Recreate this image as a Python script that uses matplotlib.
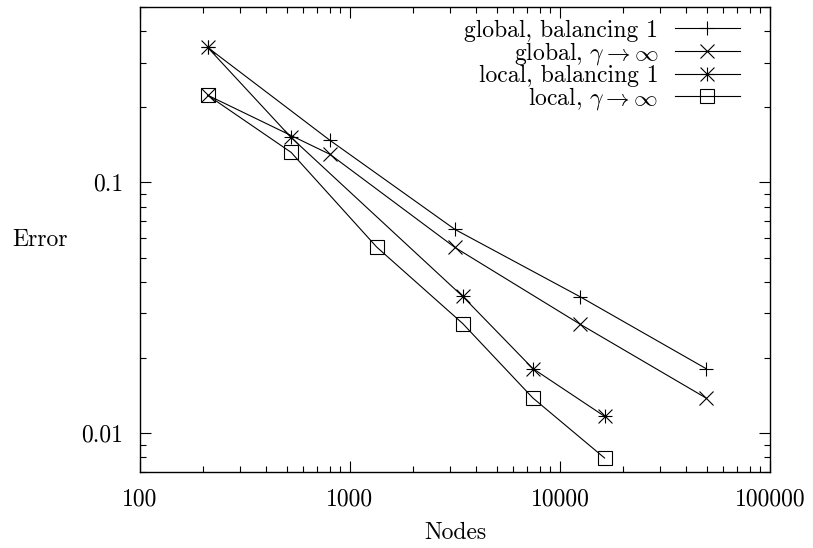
import matplotlib
matplotlib.use('Agg')
import matplotlib.pyplot as plt
from matplotlib.path import Path
import numpy as np

plt.rcParams['font.family'] = 'cmr10'
plt.rcParams['mathtext.fontset'] = 'cm'
plt.rcParams['axes.formatter.use_mathtext'] = True
plt.rcParams['font.size'] = 17

# nodes / error
glob_nodes = [210, 803, 3160, 12450, 49500]
glob_bal1 = [0.345, 0.147, 0.0649, 0.0350, 0.0181]
glob_inf = [0.2225, 0.1293, 0.0550, 0.0272, 0.01382]

loc_bal_nodes = [210, 524, 3440, 7420, 16300]
loc_bal1 = [0.345, 0.151, 0.0351, 0.0181, 0.01167]

loc_inf_nodes = [210, 524, 1340, 3440, 7420, 16300]
loc_inf = [0.2225, 0.1317, 0.0552, 0.02736, 0.01382, 0.00796]

labels = ['global, balancing 1', r'global, $\gamma \to \infty$',
          'local, balancing 1', r'local, $\gamma \to \infty$']

xticks = [100, 1000, 10000, 100000]
xticklabels = ['100', '1000', '10000', '100000']
yticks = [0.01, 0.1]
yticklabels = ['0.01', '0.1']

# gnuplot style asterisk (+ and x on top of each other)
star = Path([(-1, 0), (1, 0), (0, -1), (0, 1),
             (-1, -1), (1, 1), (-1, 1), (1, -1)],
            [Path.MOVETO, Path.LINETO] * 4)

fig = plt.figure(figsize=(8.13, 5.48), dpi=100)
ax = fig.add_axes([140/813, (548-472)/548, (770-140)/813, (472-7)/548])

kw = dict(color='black', lw=0.8, ms=10, mew=0.8, mfc='none')
ax.plot(glob_nodes, glob_bal1, marker='+', label=labels[0], **kw)
ax.plot(glob_nodes, glob_inf, marker='x', label=labels[1], **kw)
ax.plot(loc_bal_nodes, loc_bal1, marker=star, label=labels[2], **kw)
ax.plot(loc_inf_nodes, loc_inf, marker='s', label=labels[3], **kw)

ax.set_xscale('log')
ax.set_yscale('log')
ax.set_xlim(100, 100000)
ax.set_ylim(0.007, 0.5)
ax.set_xticks(xticks)
ax.set_xticklabels(xticklabels)
ax.set_yticks(yticks)
ax.set_yticklabels(yticklabels)

ax.tick_params(which='both', direction='in', top=True, right=True, width=0.8)
ax.tick_params(which='major', length=8)
ax.tick_params(which='minor', length=4)
ax.tick_params(axis='x', which='major', pad=12)
ax.tick_params(axis='y', which='major', pad=12)
for s in ax.spines.values():
    s.set_linewidth(1.0)

ax.set_xlabel('Nodes', va='center')
ax.xaxis.set_label_coords(0.5, -0.132)
ax.set_ylabel('Error', rotation=0, ha='center', va='center')
ax.yaxis.set_label_coords(-0.159, 0.5)

ax.legend(loc='upper right', bbox_to_anchor=(0.952, 0.973), frameon=False,
          markerfirst=False, handlelength=2.75, handletextpad=0.7,
          borderaxespad=0, borderpad=0, labelspacing=-0.08)

fig.savefig('out.png', dpi=100)
